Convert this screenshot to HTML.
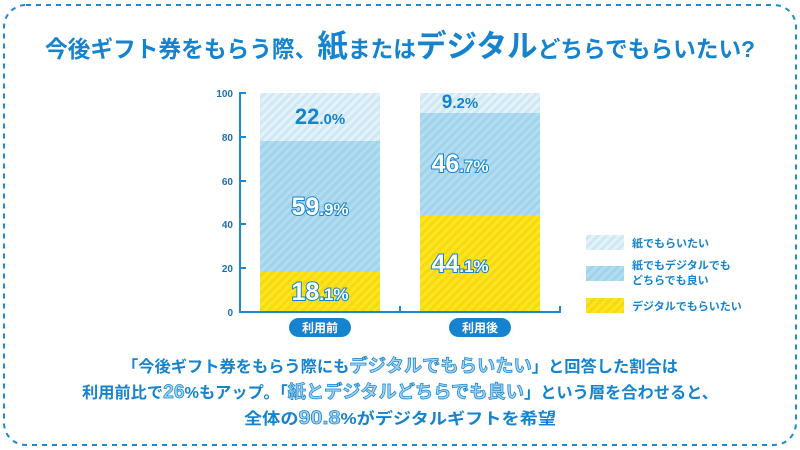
<!DOCTYPE html>
<html><head><meta charset="utf-8"><style>
html,body{margin:0;padding:0;background:#fff;}
body{width:800px;height:450px;overflow:hidden;position:relative;font-family:"Liberation Sans","Noto Sans CJK JP",sans-serif;}
</style></head><body>
<svg width="800" height="450" viewBox="0 0 800 450" xmlns="http://www.w3.org/2000/svg" style="position:absolute;left:0;top:0">
<defs>
<pattern id="pl" width="6" height="6" patternUnits="userSpaceOnUse" patternTransform="rotate(45)"><rect width="6" height="6" fill="#e4f2fa"/><rect width="3" height="6" fill="#cfe8f5"/></pattern>
<pattern id="pb" width="6" height="6" patternUnits="userSpaceOnUse" patternTransform="rotate(45)"><rect width="6" height="6" fill="#b2dcf0"/><rect width="3" height="6" fill="#a2d3ec"/></pattern>
<pattern id="py" width="6" height="6" patternUnits="userSpaceOnUse" patternTransform="rotate(45)"><rect width="6" height="6" fill="#fde523"/><rect width="3" height="6" fill="#f7d90f"/></pattern>
</defs>
<rect x="4" y="5" width="792" height="440" rx="22" fill="none" stroke="#1d8ad0" stroke-width="2" stroke-dasharray="5,5"/>
<text x="400" y="57" text-anchor="middle" fill="#1583cd" font-weight="bold" font-size="23" textLength="710" lengthAdjust="spacingAndGlyphs">今後ギフト券をもらう際、<tspan font-size="31">紙</tspan>または<tspan font-size="31">デジタル</tspan>どちらでもらいたい?</text>
<rect x="260" y="93" width="120" height="48" fill="url(#pl)"/>
<rect x="260" y="141" width="120" height="131" fill="url(#pb)"/>
<rect x="260" y="272" width="120" height="40" fill="url(#py)"/>
<rect x="420" y="93" width="120" height="20" fill="url(#pl)"/>
<rect x="420" y="113" width="120" height="102" fill="url(#pb)"/>
<rect x="420" y="215" width="120" height="97" fill="url(#py)"/>
<g stroke="#1d8ad0" stroke-width="2">
<line x1="240" y1="92" x2="240" y2="312"/>
<line x1="239" y1="312" x2="561" y2="312"/>
<line x1="240" y1="93" x2="246" y2="93"/><line x1="240" y1="137" x2="246" y2="137"/><line x1="240" y1="181" x2="246" y2="181"/><line x1="240" y1="224" x2="246" y2="224"/><line x1="240" y1="268" x2="246" y2="268"/>
<line x1="400" y1="306" x2="400" y2="312"/><line x1="560" y1="306" x2="560" y2="312"/>
</g>
<g fill="#1d6fae" font-size="10" font-weight="bold" text-anchor="end">
<text x="233" y="97">100</text><text x="233" y="141">80</text><text x="233" y="185">60</text><text x="233" y="228">40</text><text x="233" y="272">20</text><text x="233" y="316">0</text>
</g>
<g font-weight="bold" text-anchor="middle">
<text x="320" y="124" fill="#1583cd" font-size="22">22<tspan font-size="15">.0%</tspan></text>
<text x="460" y="108" fill="#1583cd" font-size="19">9<tspan font-size="15">.2%</tspan></text>
<g fill="#fff" stroke="#1583cd" stroke-width="2" paint-order="stroke">
<text x="320" y="215" font-size="25">59<tspan font-size="17">.9%</tspan></text>
<text x="460" y="172" font-size="25">46<tspan font-size="17">.7%</tspan></text>
<text x="460" y="272" font-size="25">44<tspan font-size="17">.1%</tspan></text>
<text x="320" y="300" font-size="25">18<tspan font-size="17">.1%</tspan></text>
</g>
</g>
<rect x="289" y="318" width="62" height="19" rx="9.5" fill="#1583cd"/>
<rect x="449" y="318" width="62" height="19" rx="9.5" fill="#1583cd"/>
<g fill="#fff" font-size="12" font-weight="bold" text-anchor="middle">
<text x="320" y="332">利用前</text><text x="480" y="332">利用後</text>
</g>
<rect x="586" y="235" width="38" height="15" fill="url(#pl)"/>
<rect x="586" y="266" width="38" height="15" fill="url(#pb)"/>
<rect x="586" y="298" width="38" height="15" fill="url(#py)"/>
<g fill="#1583cd" font-size="11" font-weight="bold">
<text x="632" y="247">紙でもらいたい</text>
<text x="632" y="269">紙でもデジタルでも</text>
<text x="632" y="284">どちらでも良い</text>
<text x="632" y="310">デジタルでもらいたい</text>
</g>
<g font-weight="bold" text-anchor="middle" font-size="16" fill="#1583cd">
<text x="400" y="372" textLength="556" lengthAdjust="spacingAndGlyphs">「今後ギフト券をもらう際にも<tspan fill="#9fd3f0" stroke="#1583cd" stroke-width="0.7" font-size="18">デジタルでもらいたい</tspan>」と回答した割合は</text>
<text x="400" y="398" textLength="636" lengthAdjust="spacingAndGlyphs">利用前比で<tspan fill="#9fd3f0" stroke="#1583cd" stroke-width="0.7" font-size="19">26</tspan>%もアップ。「<tspan fill="#9fd3f0" stroke="#1583cd" stroke-width="0.7" font-size="18">紙とデジタルどちらでも良い</tspan>」という層を合わせると、</text>
<text x="400" y="424" textLength="312" lengthAdjust="spacingAndGlyphs">全体の<tspan fill="#9fd3f0" stroke="#1583cd" stroke-width="0.7" font-size="19">90.8</tspan>%がデジタルギフトを希望</text>
</g>
</svg>
</body></html>
